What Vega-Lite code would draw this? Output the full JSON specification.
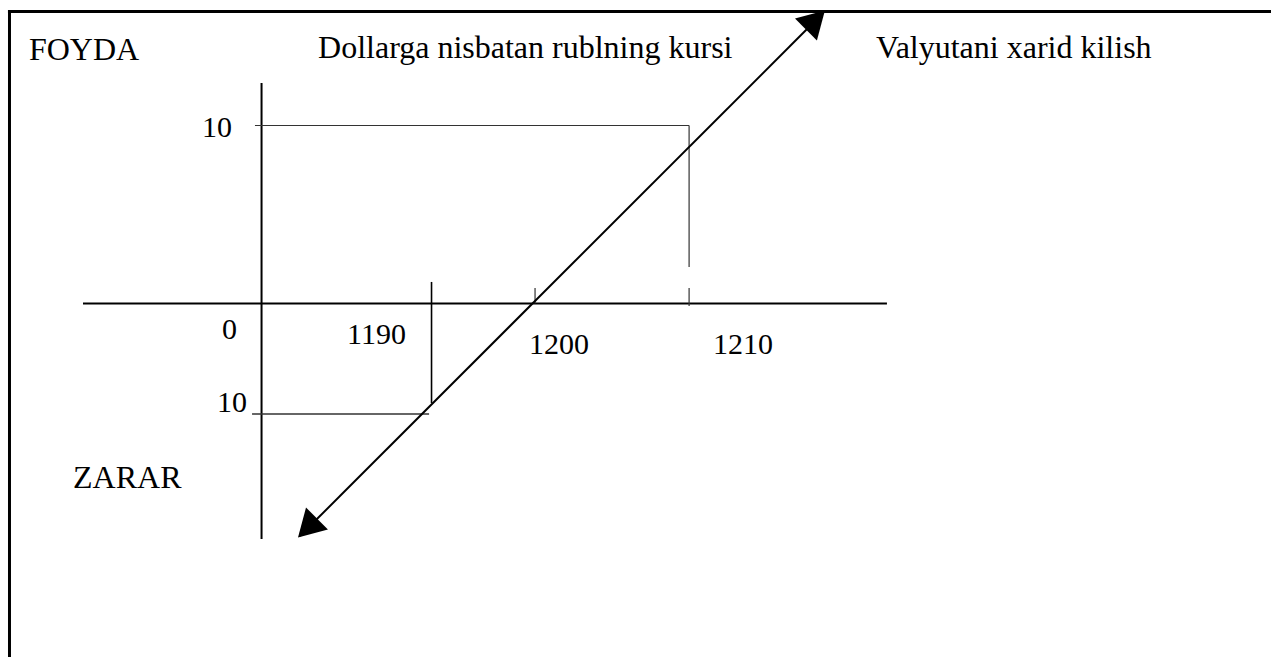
{
  "$schema": "https://vega.github.io/schema/vega-lite/v6.json",
  "width": 1271,
  "height": 657,
  "padding": 0,
  "autosize": "none",
  "background": "white",
  "config": {"view": {"stroke": null}},
  "datasets": {
    "segments": [
      {"part": "frame", "x": 1165.52, "y": 16.4, "x2": 1248, "y2": 16.4},
      {"part": "frame", "x": 1165.62, "y": 16.49, "x2": 1165.62, "y2": -19.86},
      {"part": "axis", "x": 1182.08, "y": 12.39, "x2": 1182.08, "y2": -13.23},
      {"part": "axis", "x": 1170.42, "y": 0, "x2": 1222.92, "y2": 0},
      {"part": "guide", "x": 1181.65, "y": 10, "x2": 1210, "y2": 10},
      {"part": "guide", "x": 1210, "y": 10, "x2": 1210, "y2": 2.05},
      {"part": "guide", "x": 1210, "y": 0.87, "x2": 1210, "y2": -0.14},
      {"part": "guide", "x": 1199.94, "y": 0.87, "x2": 1199.94, "y2": 0},
      {"part": "guide2", "x": 1181.46, "y": -6.21, "x2": 1193.02, "y2": -6.21},
      {"part": "mark1190", "x": 1193.18, "y": 1.21, "x2": 1193.18, "y2": -5.59},
      {"part": "diagonal", "x": 1184.59, "y": -13.06, "x2": 1218.68, "y2": 16.26}
    ],
    "arrows": [
      {"end": "top", "x": 1218.25, "y": 15.93},
      {"end": "bottom", "x": 1185.08, "y": -12.61}
    ],
    "labels": [
      {"group": "word", "label": "FOYDA", "x": 1166.89, "y": 13.68},
      {"group": "word", "label": "Dollarga nisbatan rublning kursi", "x": 1185.77, "y": 13.79},
      {"group": "word", "label": "Valyutani xarid kilish", "x": 1222.21, "y": 13.79},
      {"group": "word", "label": "ZARAR", "x": 1169.77, "y": -10.37},
      {"group": "number", "label": "10", "x": 1178.19, "y": 9.35},
      {"group": "number", "label": "0", "x": 1179.5, "y": -1.99},
      {"group": "number", "label": "1190", "x": 1187.66, "y": -2.28},
      {"group": "number", "label": "10", "x": 1179.17, "y": -6.1},
      {"group": "number", "label": "1200", "x": 1199.55, "y": -2.84},
      {"group": "number", "label": "1210", "x": 1211.56, "y": -2.84}
    ]
  },
  "encoding": {
    "x": {"field": "x", "type": "quantitative", "scale": {"domain": [1165, 1248], "nice": false, "zero": false}, "axis": null},
    "y": {"field": "y", "type": "quantitative", "scale": {"domain": [-19.86, 17.05], "nice": false, "zero": false}, "axis": null}
  },
  "layer": [
    {
      "data": {"name": "segments"},
      "transform": [{"filter": "datum.part == 'frame'"}],
      "mark": {"type": "rule", "color": "black", "strokeWidth": 3},
      "encoding": {"x2": {"field": "x2"}, "y2": {"field": "y2"}}
    },
    {
      "data": {"name": "segments"},
      "transform": [{"filter": "datum.part == 'axis'"}],
      "mark": {"type": "rule", "color": "black", "strokeWidth": 2},
      "encoding": {"x2": {"field": "x2"}, "y2": {"field": "y2"}}
    },
    {
      "data": {"name": "segments"},
      "transform": [{"filter": "datum.part == 'guide'"}],
      "mark": {"type": "rule", "color": "#333333", "strokeWidth": 1.2},
      "encoding": {"x2": {"field": "x2"}, "y2": {"field": "y2"}}
    },
    {
      "data": {"name": "segments"},
      "transform": [{"filter": "datum.part == 'guide2'"}],
      "mark": {"type": "rule", "color": "#333333", "strokeWidth": 1.6},
      "encoding": {"x2": {"field": "x2"}, "y2": {"field": "y2"}}
    },
    {
      "data": {"name": "segments"},
      "transform": [{"filter": "datum.part == 'mark1190'"}],
      "mark": {"type": "rule", "color": "black", "strokeWidth": 1.6},
      "encoding": {"x2": {"field": "x2"}, "y2": {"field": "y2"}}
    },
    {
      "data": {"name": "segments"},
      "transform": [{"filter": "datum.part == 'diagonal'"}],
      "mark": {"type": "rule", "color": "black", "strokeWidth": 2},
      "encoding": {"x2": {"field": "x2"}, "y2": {"field": "y2"}}
    },
    {
      "data": {"name": "arrows"},
      "transform": [{"filter": "datum.end == 'top'"}],
      "mark": {"type": "point", "shape": "triangle-up", "filled": true, "color": "black", "opacity": 1, "size": 960, "angle": 45}
    },
    {
      "data": {"name": "arrows"},
      "transform": [{"filter": "datum.end == 'bottom'"}],
      "mark": {"type": "point", "shape": "triangle-up", "filled": true, "color": "black", "opacity": 1, "size": 960, "angle": 225}
    },
    {
      "data": {"name": "labels"},
      "transform": [{"filter": "datum.group == 'word'"}],
      "mark": {"type": "text", "font": "Liberation Serif", "fontSize": 32, "align": "left", "baseline": "alphabetic", "color": "black"},
      "encoding": {"text": {"field": "label"}}
    },
    {
      "data": {"name": "labels"},
      "transform": [{"filter": "datum.group == 'number'"}],
      "mark": {"type": "text", "font": "Liberation Serif", "fontSize": 30, "align": "left", "baseline": "alphabetic", "color": "black"},
      "encoding": {"text": {"field": "label"}}
    }
  ]
}
